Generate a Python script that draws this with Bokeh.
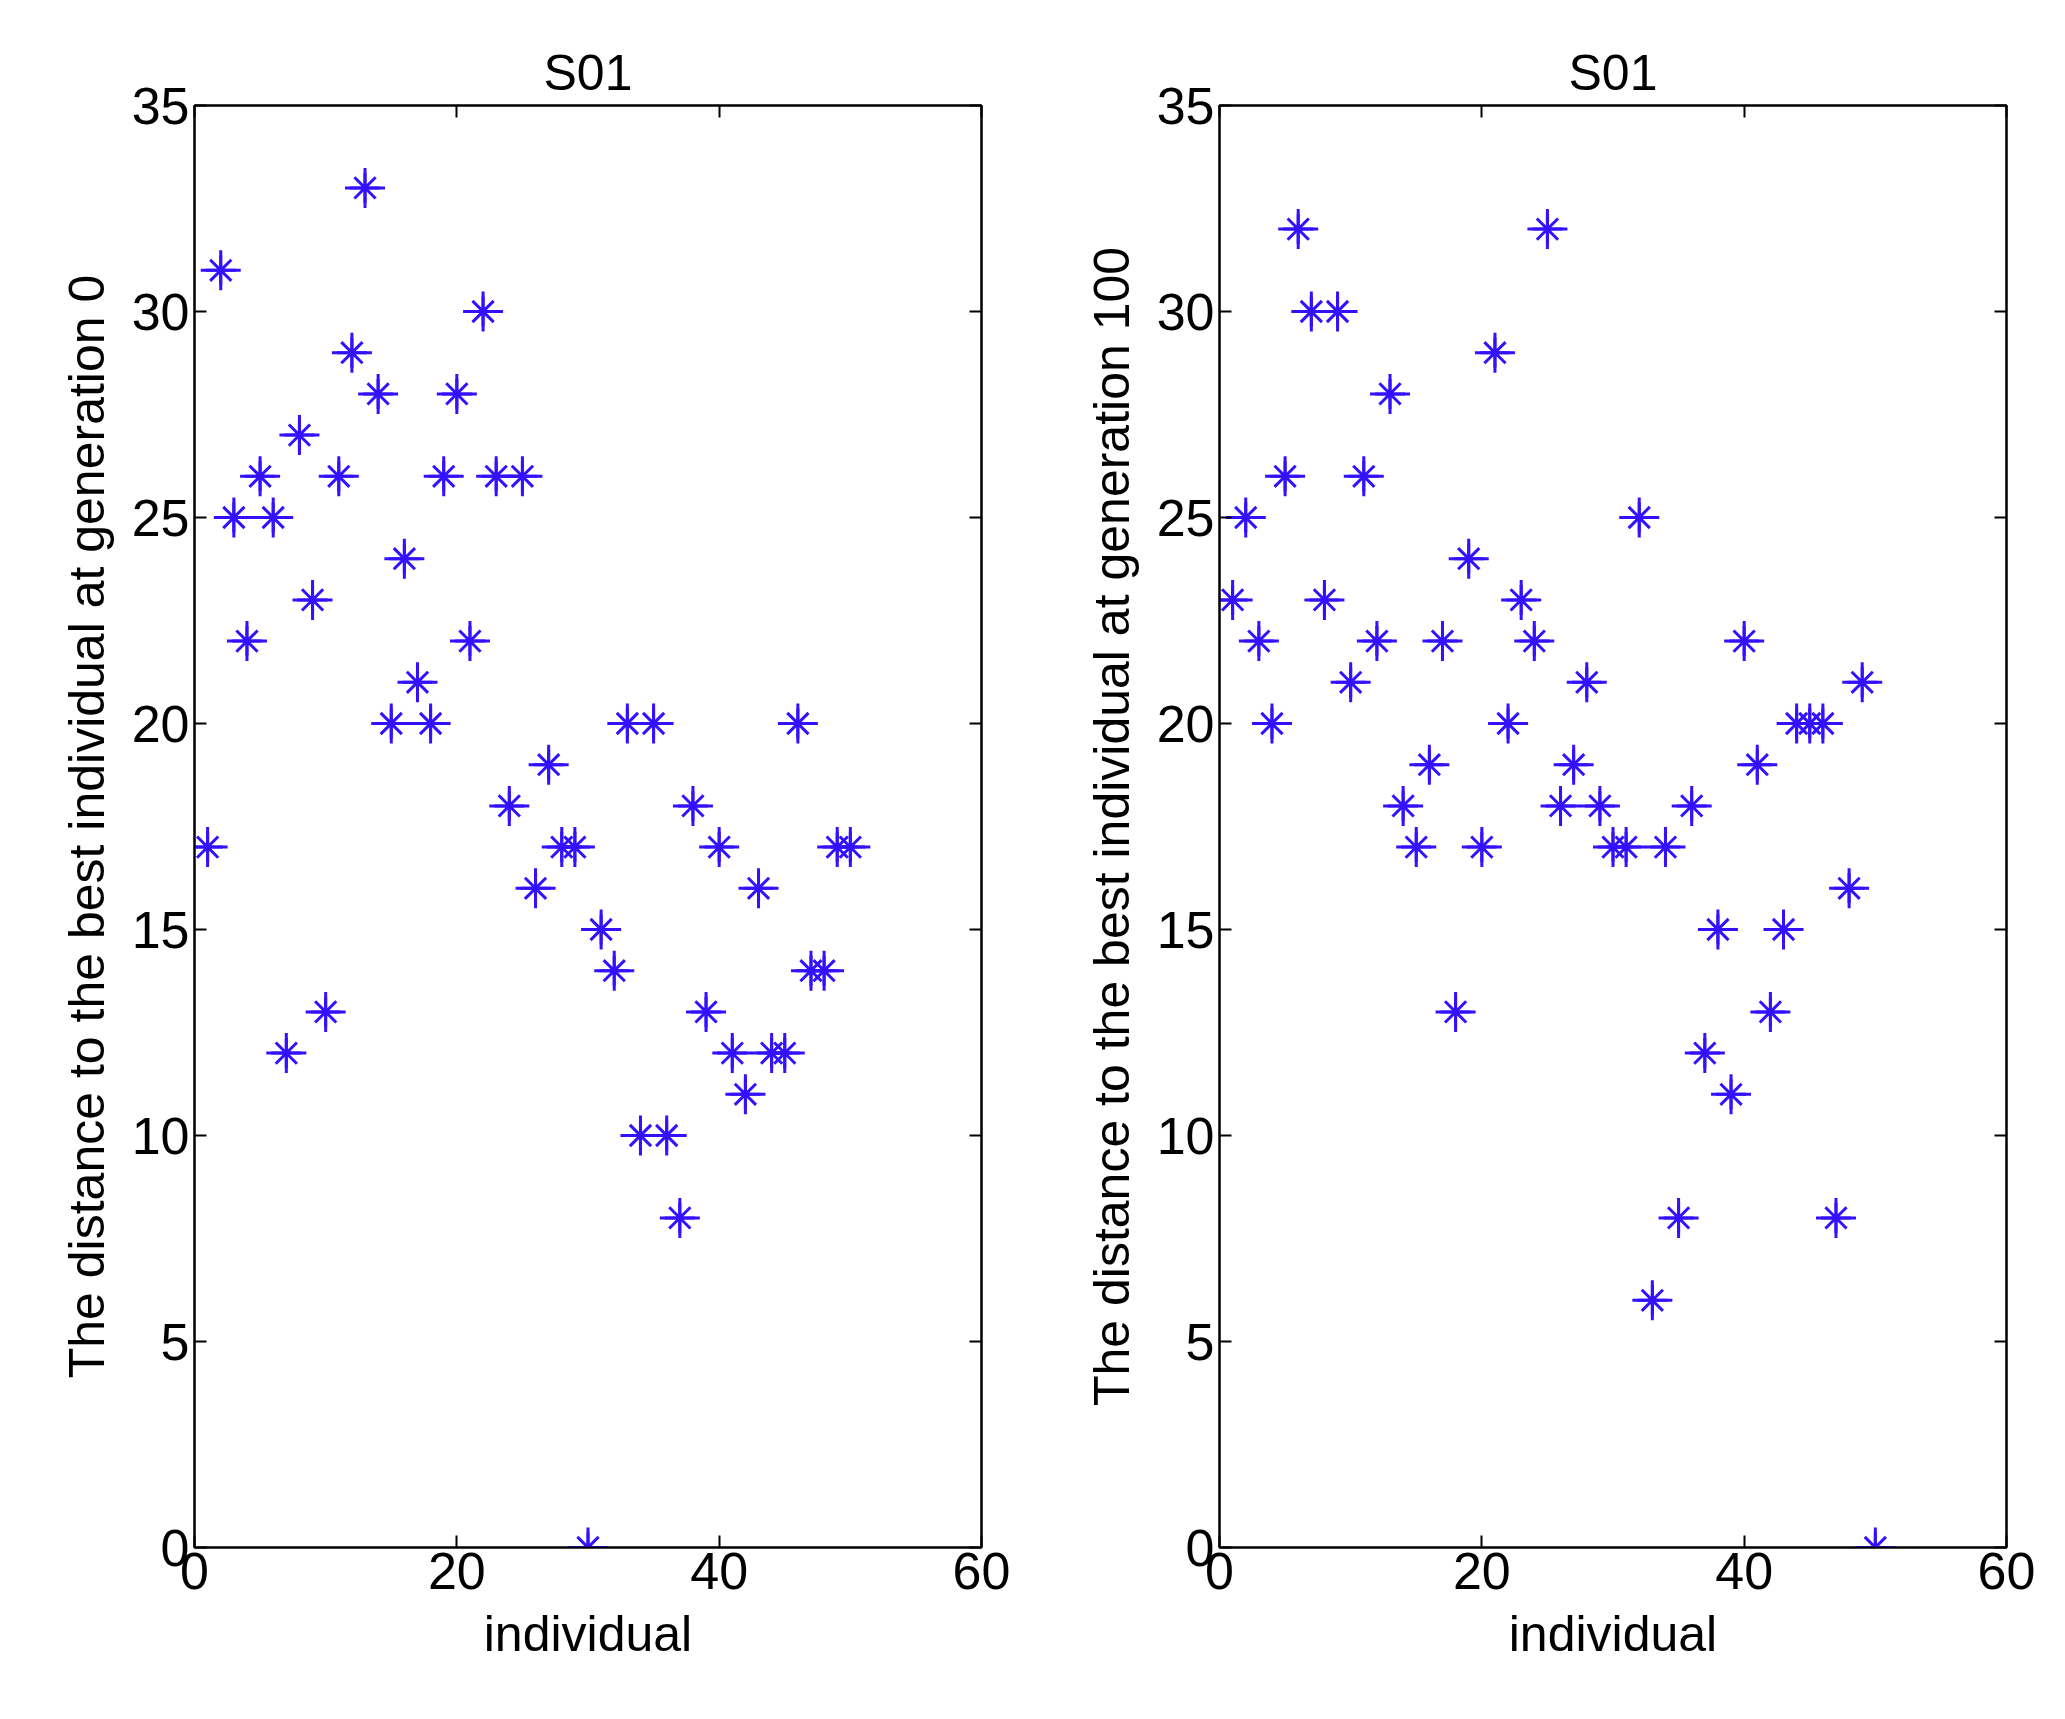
from bokeh.plotting import figure
from bokeh.layouts import row
from bokeh.models import LinearAxis, FixedTicker, Range1d
from bokeh.embed import file_html
from bokeh.resources import INLINE

individual = list(range(1, 51))
dist_gen0 = [17, 31, 25, 22, 26, 25, 12, 27, 23, 13, 26, 29, 33, 28, 20, 24, 21, 20, 26, 28,
             22, 30, 26, 18, 26, 16, 19, 17, 17, 0, 15, 14, 20, 10, 20, 10, 8, 18, 13, 17,
             12, 11, 16, 12, 12, 20, 14, 14, 17, 17]
dist_gen100 = [23, 25, 22, 20, 26, 32, 30, 23, 30, 21, 26, 22, 28, 18, 17, 19, 22, 13, 24, 17,
               29, 20, 23, 22, 32, 18, 19, 21, 18, 17, 17, 25, 6, 17, 8, 18, 12, 15, 11, 22,
               19, 13, 15, 20, 20, 20, 8, 16, 21, 0]
titles = ["S01", "S01"]
ylabels = ["The distance to the best individual at generation 0",
           "The distance to the best individual at generation 100"]
xticks = [0, 20, 40, 60]
yticks = [0, 5, 10, 15, 20, 25, 30, 35]

FONT = "Liberation Sans"
COLOR = "#3311ff"

def make(ys, title, ylabel, left):
    p = figure(width=1024, height=1700, output_backend="svg", toolbar_location=None,
               x_range=Range1d(0, 60), y_range=Range1d(0, 35),
               min_border_left=left, min_border_right=1024 - left - 787,
               min_border_top=105, min_border_bottom=153)
    p.title.text = title
    p.title.align = "center"
    p.title.text_font = FONT
    p.title.text_font_size = "50px"
    p.title.text_font_style = "normal"
    p.title.text_color = "black"
    p.grid.visible = False
    p.outline_line_color = "black"
    p.outline_line_width = 2
    p.xaxis.axis_label = "individual"
    p.yaxis.axis_label = ylabel
    for ax in (p.xaxis[0], p.yaxis[0]):
        ax.axis_label_text_font = FONT
        ax.axis_label_text_font_size = "50px"
        ax.axis_label_text_font_style = "normal"
        ax.axis_label_text_color = "black"
        ax.major_label_text_font = FONT
        ax.major_label_text_font_size = "52px"
        ax.major_label_text_color = "black"
        ax.major_tick_in = 12
        ax.major_tick_out = 0
        ax.minor_tick_line_color = None
        ax.axis_line_width = 2
        ax.major_tick_line_width = 2
        ax.axis_label_standoff = 14
    p.xaxis.ticker = FixedTicker(ticks=xticks)
    p.yaxis.ticker = FixedTicker(ticks=yticks)
    for loc, tk in (("above", xticks), ("right", yticks)):
        a = LinearAxis(ticker=FixedTicker(ticks=tk), major_label_text_color=None,
                       major_label_text_font_size="10px",
                       major_tick_in=12, major_tick_out=0, minor_tick_line_color=None,
                       axis_line_width=2, major_tick_line_width=2)
        p.add_layout(a, loc)
    p.scatter(individual, ys, marker="asterisk", size=30, line_color=COLOR, line_width=3)
    p.scatter(individual, ys, marker="cross", size=40, line_color=COLOR, line_width=3)
    return p

p1 = make(dist_gen0, titles[0], ylabels[0], 194)
p2 = make(dist_gen100, titles[1], ylabels[1], 195)
layout = row(p1, p2)
open("out.html", "w").write(file_html(layout, INLINE))
